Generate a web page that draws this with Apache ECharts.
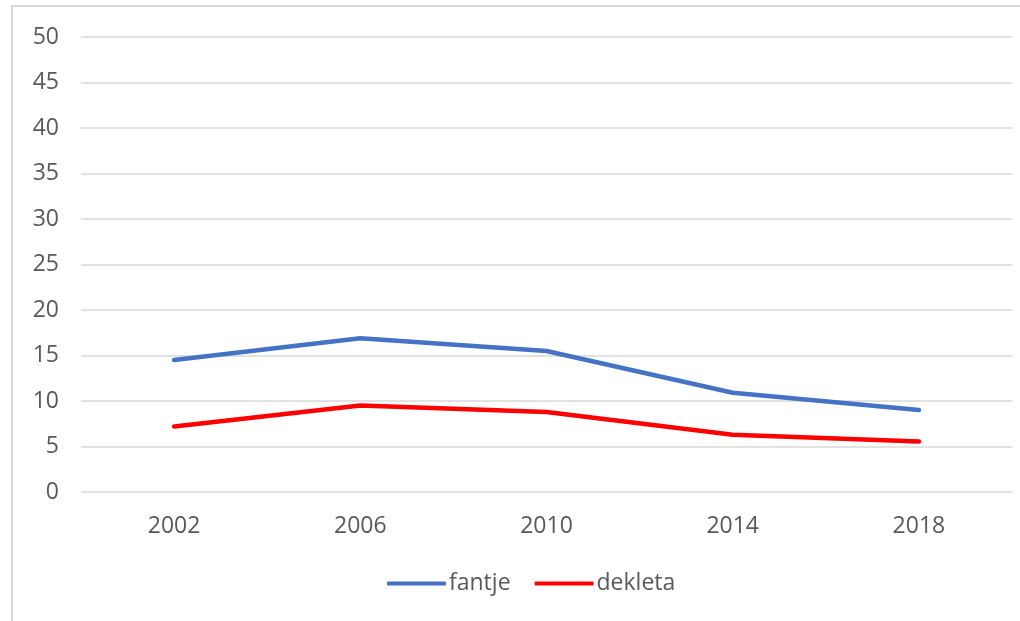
<!DOCTYPE html>
<html>
<head>
<meta charset="utf-8">
<script src="https://cdn.jsdelivr.net/npm/echarts@6/dist/echarts.min.js"></script>
<style>
html,body{margin:0;padding:0;background:#fff;}
#frame{position:absolute;left:11px;top:5px;width:1100px;height:700px;border-left:2px solid #d9d9d9;border-top:2px solid #d9d9d9;}
#chart{position:absolute;left:0;top:0;width:1020px;height:621px;}
</style>
</head>
<body>
<div id="frame"></div>
<div id="chart"></div>
<script>
const years = ['2002', '2006', '2010', '2014', '2018'];
const fantje = [14.5, 16.9, 15.5, 10.9, 9.0];
const dekleta = [7.2, 9.5, 8.8, 6.3, 5.55];
const seriesNames = ['fantje', 'dekleta'];

const font = '"Open Sans", "Noto Sans", sans-serif';
const chart = echarts.init(document.getElementById('chart'), null, {renderer: 'canvas'});
chart.setOption({
  animation: false,
  backgroundColor: 'transparent',
  grid: {left: 81, right: 8, top: 37, bottom: 129, containLabel: false},
  legend: {
    data: seriesNames,
    bottom: 21,
    left: 382,
    itemWidth: 59,
    itemHeight: 4,
    itemGap: 24,
    icon: 'roundRect',
    textStyle: {color: '#595959', fontSize: 23, fontFamily: font, padding: [0, 0, 0, -2]}
  },
  xAxis: {
    type: 'category',
    data: years,
    boundaryGap: true,
    axisLine: {show: false},
    axisTick: {show: false},
    axisLabel: {color: '#595959', fontSize: 23, fontFamily: font, margin: 23}
  },
  yAxis: {
    type: 'value',
    min: 0, max: 50, interval: 5,
    axisLine: {show: false},
    axisTick: {show: false},
    splitLine: {lineStyle: {color: '#d9d9d9', width: 1.5}},
    axisLabel: {color: '#595959', fontSize: 23, fontFamily: font, margin: 22}
  },
  series: [
    {name: seriesNames[0], type: 'line', data: fantje, showSymbol: false, symbol: 'none',
     lineStyle: {color: '#4472C4', width: 4.5, cap: 'round', join: 'round'}, itemStyle: {color: '#4472C4'}},
    {name: seriesNames[1], type: 'line', data: dekleta, showSymbol: false, symbol: 'none',
     lineStyle: {color: '#FF0000', width: 4.5, cap: 'round', join: 'round'}, itemStyle: {color: '#FF0000'}}
  ]
});
</script>
</body>
</html>
